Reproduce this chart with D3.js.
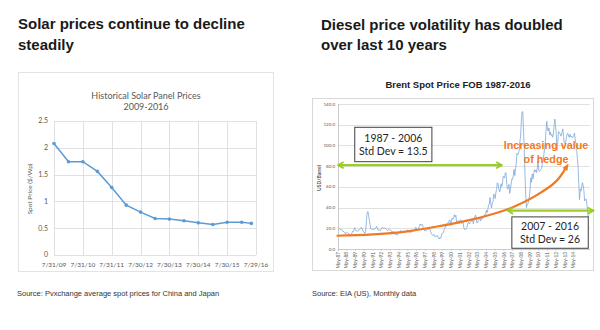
<!DOCTYPE html>
<html>
<head>
<meta charset="utf-8">
<script src="https://cdn.jsdelivr.net/npm/d3@7"></script>
<style>
  body { margin: 0; background: #fff; }
  svg { display: block; }
  .headline { font-family: "Liberation Sans", Arial, sans-serif; font-weight: bold; font-size: 15px; fill: #1a1a1a; }
  .source { font-family: "Liberation Sans", Arial, sans-serif; font-size: 7.5px; fill: #333; }
  .xl { font-family: Lato, "Liberation Sans", sans-serif; fill: #595959; }
  .callout { font-family: Lato, "Liberation Sans", sans-serif; font-size: 10.5px; fill: #262626; }
</style>
</head>
<body>
<svg id="chart" width="600" height="330"></svg>
<script>
// ---- solar panel spot prices ($/Wp), China & Japan average ----
const solarDates = ["2009-07-31", "2010-01-31", "2010-07-31", "2011-01-31", "2011-07-31",
  "2012-01-31", "2012-07-30", "2013-01-30", "2013-07-30", "2014-01-30", "2014-07-30",
  "2015-01-30", "2015-07-30", "2016-01-30", "2016-05-31"];
const solarPrices = [2.08, 1.74, 1.74, 1.56, 1.26, 0.93, 0.80, 0.68, 0.67, 0.64, 0.60, 0.57, 0.61, 0.61, 0.59];
const solarXTicks = ["2009-07-31", "2010-07-31", "2011-07-31", "2012-07-30", "2013-07-30",
  "2014-07-30", "2015-07-30", "2016-07-29"];
const solarYTicks = [0, 0.5, 1, 1.5, 2, 2.5];

// ---- Brent spot price FOB (USD/barrel), monthly from May 1987 ----
const brentStart = "1987-05";
const brentPrices = [
  18.58, 18.86, 19.86, 18.98, 18.31, 18.76, 18.25, 16.67,
  16.94, 15.98, 14.65, 16.01, 16.09, 15.44, 14.82, 14.98, 13.18, 12.42, 13.01, 15.17,
  17.12, 16.81, 18.63, 20.56, 18.35, 17.53, 17.83, 17.06, 18.12, 19.01, 18.75, 19.85,
  21.08, 19.69, 18.34, 16.39, 16.43, 15.09, 17.18, 27.22, 34.88, 36.20, 32.98, 27.75,
  23.73, 19.45, 19.14, 19.18, 19.20, 18.30, 19.42, 19.62, 20.17, 21.93, 20.56, 18.19,
  18.06, 18.07, 17.40, 18.75, 19.86, 21.12, 20.22, 19.76, 20.34, 20.32, 19.35, 18.41,
  17.75, 18.61, 18.76, 18.60, 18.48, 17.61, 16.49, 16.87, 16.04, 16.75, 15.24, 13.71,
  14.23, 13.78, 13.65, 15.08, 16.23, 16.92, 18.04, 16.91, 15.96, 16.22, 17.08, 15.85,
  16.55, 17.05, 16.88, 18.36, 18.28, 17.30, 15.99, 16.24, 16.56, 16.13, 16.94, 17.98,
  17.97, 18.36, 19.92, 21.17, 19.17, 18.75, 19.71, 20.33, 22.58, 24.16, 22.69, 23.68,
  23.61, 20.89, 19.34, 17.47, 18.67, 17.64, 18.73, 18.77, 18.56, 20.43, 19.27, 17.20,
  15.30, 14.03, 13.10, 13.34, 14.13, 12.02, 12.05, 11.90, 13.25, 12.64, 10.90, 9.64,
  11.08, 10.27, 12.51, 15.29, 15.23, 15.86, 19.08, 20.22, 22.54, 21.95, 24.59, 25.60,
  25.50, 27.78, 27.49, 22.76, 27.74, 29.80, 28.68, 30.20, 33.14, 30.96, 32.55, 25.66,
  25.62, 27.50, 24.50, 25.66, 28.31, 27.85, 24.61, 25.68, 25.62, 20.54, 18.80, 18.71,
  19.42, 20.28, 23.70, 25.73, 25.35, 24.08, 25.74, 26.65, 28.40, 27.54, 24.34, 28.33,
  31.18, 32.77, 30.61, 25.00, 25.86, 27.65, 28.35, 29.89, 27.11, 29.61, 28.75, 29.81,
  31.28, 30.86, 33.63, 33.59, 37.57, 35.18, 38.22, 42.74, 43.20, 49.78, 43.11, 39.60,
  44.51, 45.48, 53.10, 51.88, 48.65, 54.35, 57.52, 63.98, 62.91, 58.54, 55.24, 56.86,
  62.99, 60.21, 62.06, 70.26, 69.78, 68.56, 73.67, 73.23, 61.96, 57.81, 58.76, 62.47,
  53.68, 57.56, 62.05, 67.49, 67.21, 71.05, 76.93, 70.76, 77.17, 82.34, 92.41, 90.93,
  92.18, 94.99, 103.64, 109.07, 122.80, 132.32, 132.72, 113.24, 97.23, 71.58, 52.45, 39.95,
  43.44, 43.32, 46.54, 50.18, 57.30, 68.61, 64.44, 72.51, 67.65, 72.77, 76.66, 74.46,
  76.17, 73.75, 78.83, 84.82, 75.95, 74.76, 75.58, 77.04, 77.84, 82.67, 85.28, 91.45,
  96.52, 103.72, 114.64, 123.26, 114.99, 113.83, 116.97, 110.22, 112.83, 109.55, 110.77, 107.87,
  110.69, 119.33, 125.45, 119.75, 110.34, 95.16, 102.62, 113.36, 112.86, 111.71, 109.06, 109.49,
  112.96, 116.05, 108.47, 102.25, 102.56, 102.92, 107.93, 111.28, 111.60, 109.08, 107.79, 110.76,
  108.12, 108.90, 107.48, 107.76, 109.54, 111.80, 106.77, 101.61, 97.09, 87.43, 79.44, 62.34,
  47.76, 58.10, 55.89, 59.52, 64.08, 61.48, 56.56, 46.52, 47.62, 48.43, 44.27, 38.01,
  30.70, 32.18
];
const brentYTicks = [0, 20, 40, 60, 80, 100, 120, 140];

// volatility periods: arrow span, arrow level, callout box corners [month, price]
const periodLabels = ["1987 - 2006", "2007 - 2016"];
const periodStdDev = ["Std Dev = 13.5", "Std Dev = 26"];
const periodSpans = [["1987-05", "2006-02"], ["2006-10", "2016-08"]];
const periodLevels = [81, 37];
const periodBoxes = [[["1989-04", 117.5], ["1998-02", 84.3]], [["2007-04", 31], ["2016-01", 0.7]]];

// hedge trend curve, [month, price]
const hedgeCurve = [["1987-03", 12.8], ["1994-06", 16.1], ["1999-01", 22.2], ["2003-04", 29.6],
  ["2007-06", 40.5], ["2010-07", 54.1], ["2012-10", 69.5], ["2013-07", 79]];
const hedgeLabel = ["Increasing value", "of hedge"];
const hedgeLabelAt = [["2011-03", 96.5], ["2011-03", 83.5]];

const green = "#9acd2a";
const orange = "#f07a24";
const grid = "#d9d9d9";

const svg = d3.select("#chart");
const defs = svg.append("defs");

defs.append("marker").attr("id", "greenHead")
    .attr("viewBox", "0 0 10 10").attr("refX", 8.5).attr("refY", 5)
    .attr("markerWidth", 8).attr("markerHeight", 8)
    .attr("markerUnits", "userSpaceOnUse").attr("orient", "auto-start-reverse")
  .append("path").attr("d", "M1.5,1 L8.5,5 L1.5,9")
    .attr("fill", "none").attr("stroke", green).attr("stroke-width", 2.2);

defs.append("marker").attr("id", "orangeHead")
    .attr("viewBox", "0 0 10 10").attr("refX", 4).attr("refY", 5)
    .attr("markerWidth", 7).attr("markerHeight", 7)
    .attr("markerUnits", "userSpaceOnUse").attr("orient", "auto")
  .append("path").attr("d", "M0,1 L10,5 L0,9 Z").attr("fill", orange);

// headlines
svg.append("text").attr("class", "headline").attr("x", 18).attr("y", 29).text("Solar prices continue to decline");
svg.append("text").attr("class", "headline").attr("x", 18).attr("y", 50).text("steadily");
svg.append("text").attr("class", "headline").attr("x", 321).attr("y", 30).text("Diesel price volatility has doubled");
svg.append("text").attr("class", "headline").attr("x", 321).attr("y", 50).text("over last 10 years");

svg.append("text").attr("class", "source").attr("x", 17).attr("y", 296)
    .text("Source: Pvxchange average spot prices for China and Japan");
svg.append("text").attr("class", "source").attr("x", 312).attr("y", 296)
    .text("Source: EIA (US), Monthly data");

// ================= solar chart =================
const parseDay = d3.timeParse("%Y-%m-%d");
const solar = svg.append("g");

solar.append("rect")
    .attr("x", 18.5).attr("y", 72.5).attr("width", 255).attr("height", 199)
    .attr("fill", "#fff").attr("stroke", "#e3e3e3");

const sx = d3.scaleTime()
    .domain([parseDay(solarXTicks[0]), parseDay(solarXTicks[solarXTicks.length - 1])])
    .range([54, 256]);
const sy = d3.scaleLinear().domain([0, 2.5]).range([255, 121]);

solar.append("g").selectAll("line").data(solarYTicks).join("line")
    .attr("x1", sx.range()[0]).attr("x2", sx.range()[1])
    .attr("y1", d => Math.round(sy(d)) + 0.5).attr("y2", d => Math.round(sy(d)) + 0.5)
    .attr("stroke", grid).attr("stroke-width", 0.8);
solar.append("g").selectAll("line").data(solarXTicks).join("line")
    .attr("x1", d => Math.round(sx(parseDay(d))) + 0.5).attr("x2", d => Math.round(sx(parseDay(d))) + 0.5)
    .attr("y1", sy(2.5)).attr("y2", sy(0))
    .attr("stroke", grid).attr("stroke-width", 0.8);

solar.append("g").selectAll("text").data(solarYTicks).join("text")
    .attr("class", "xl").attr("font-size", 7)
    .attr("x", 48).attr("y", d => sy(d)).attr("dy", "0.35em")
    .attr("text-anchor", "end")
    .text(d => d3.format("~g")(d));

const solarTickFmt = d3.timeFormat("%-m/%-d/%y");
solar.append("g").selectAll("text").data(solarXTicks).join("text")
    .attr("class", "xl").attr("font-size", 6.5)
    .attr("x", d => sx(parseDay(d))).attr("y", 267)
    .attr("text-anchor", "middle")
    .text(d => solarTickFmt(parseDay(d)));

solar.append("text").attr("class", "xl").attr("font-size", 6.5)
    .attr("text-anchor", "middle")
    .attr("transform", "translate(32,189) rotate(-90)")
    .text("Spot Price ($/Wp)");

solar.append("text").attr("class", "xl").attr("font-size", 9)
    .attr("x", 146).attr("y", 99).attr("text-anchor", "middle")
    .text("Historical Solar Panel Prices");
solar.append("text").attr("class", "xl").attr("font-size", 9)
    .attr("x", 146).attr("y", 110).attr("text-anchor", "middle")
    .text("2009-2016");

const solarData = solarDates.map((d, i) => ({ date: parseDay(d), price: solarPrices[i] }));
solar.append("path").datum(solarData)
    .attr("fill", "none").attr("stroke", "#5b9bd5").attr("stroke-width", 1.5)
    .attr("d", d3.line().x(d => sx(d.date)).y(d => sy(d.price)));
solar.append("g").selectAll("circle").data(solarData).join("circle")
    .attr("cx", d => sx(d.date)).attr("cy", d => sy(d.price)).attr("r", 1.8)
    .attr("fill", "#5b9bd5");

// ================= brent chart =================
const parseMonth = d3.timeParse("%Y-%m");
const brent = svg.append("g");

brent.append("text")
    .attr("x", 458).attr("y", 88).attr("text-anchor", "middle")
    .attr("font-family", "Liberation Sans, Arial, sans-serif")
    .attr("font-weight", "bold").attr("font-size", 9.5).attr("fill", "#222")
    .text("Brent Spot Price FOB 1987-2016");

brent.append("rect")
    .attr("x", 312.5).attr("y", 98.5).attr("width", 281).attr("height", 172)
    .attr("fill", "none").attr("stroke", "#d9d9d9");

const start = parseMonth(brentStart);
const brentData = brentPrices.map((v, i) => ({ date: d3.timeMonth.offset(start, i), price: v }));

const bx = d3.scaleTime()
    .domain([brentData[0].date, brentData[brentData.length - 1].date])
    .range([338, 589]);
const by = d3.scaleLinear().domain([0, 140]).range([249, 104]);

brent.append("g").selectAll("line").data(brentYTicks).join("line")
    .attr("x1", 338).attr("x2", 590)
    .attr("y1", d => Math.round(by(d)) + 0.5).attr("y2", d => Math.round(by(d)) + 0.5)
    .attr("stroke", d => d === 0 ? "#bfbfbf" : grid).attr("stroke-width", 0.8);
brent.append("line")
    .attr("x1", 338.5).attr("x2", 338.5).attr("y1", by(140)).attr("y2", by(0) + 2)
    .attr("stroke", "#bfbfbf").attr("stroke-width", 0.8);

brent.append("g").selectAll("text").data(brentYTicks).join("text")
    .attr("class", "xl").attr("font-size", 4.5)
    .attr("x", 335).attr("y", d => by(d)).attr("dy", "0.35em")
    .attr("text-anchor", "end")
    .text(d => d3.format(".1f")(d));

brent.append("text").attr("class", "xl").attr("font-size", 5)
    .attr("font-weight", "bold")
    .attr("text-anchor", "middle")
    .attr("transform", "translate(321,178) rotate(-90)")
    .text("USD/Barrel");

const yearTicks = brentData.filter((d, i) => i % 12 === 0 && i + 12 <= brentData.length).map(d => d.date);
const monthFmt = d3.timeFormat("%b-%y");
brent.append("g").selectAll("line").data(yearTicks).join("line")
    .attr("x1", d => bx(d)).attr("x2", d => bx(d)).attr("y1", 249).attr("y2", 251)
    .attr("stroke", "#bfbfbf").attr("stroke-width", 0.6);
brent.append("g").selectAll("text").data(yearTicks).join("text")
    .attr("class", "xl").attr("font-size", 4.8)
    .attr("text-anchor", "end").attr("dy", "0.35em")
    .attr("transform", d => `translate(${bx(d)},252) rotate(-90)`)
    .text(d => monthFmt(d));

brent.append("path").datum(brentData)
    .attr("fill", "none").attr("stroke", "#7ea8db").attr("stroke-width", 0.8)
    .attr("d", d3.line().x(d => bx(d.date)).y(d => by(d.price)));

// hedge trend
brent.append("path").datum(hedgeCurve)
    .attr("fill", "none").attr("stroke", orange).attr("stroke-width", 2.2)
    .attr("marker-end", "url(#orangeHead)")
    .attr("d", d3.line().curve(d3.curveMonotoneX)
      .x(d => bx(parseMonth(d[0]))).y(d => by(d[1])));

hedgeLabel.forEach((t, i) => {
  brent.append("text")
      .attr("x", bx(parseMonth(hedgeLabelAt[i][0]))).attr("y", by(hedgeLabelAt[i][1]))
      .attr("text-anchor", "middle")
      .attr("font-family", "Liberation Sans, Arial, sans-serif")
      .attr("font-weight", "bold").attr("font-size", 10.8).attr("fill", orange)
      .text(t);
});

// volatility periods
periodSpans.forEach((span, i) => {
  brent.append("line")
      .attr("x1", bx(parseMonth(span[0]))).attr("x2", bx(parseMonth(span[1])))
      .attr("y1", by(periodLevels[i])).attr("y2", by(periodLevels[i]))
      .attr("stroke", green).attr("stroke-width", 2.2)
      .attr("marker-start", "url(#greenHead)").attr("marker-end", "url(#greenHead)");

  const [[m0, p0], [m1, p1]] = periodBoxes[i];
  const x0 = bx(parseMonth(m0)), x1 = bx(parseMonth(m1));
  const y0 = by(p0), y1 = by(p1);
  brent.append("rect")
      .attr("x", x0).attr("y", y0).attr("width", x1 - x0).attr("height", y1 - y0)
      .attr("fill", "#fff").attr("stroke", "#404040").attr("stroke-width", 1);
  const cx = (x0 + x1) / 2, h = y1 - y0;
  brent.append("text").attr("class", "callout")
      .attr("x", cx).attr("y", y0 + h * 0.42).attr("text-anchor", "middle")
      .text(periodLabels[i]);
  brent.append("text").attr("class", "callout")
      .attr("x", cx).attr("y", y0 + h * 0.82).attr("text-anchor", "middle")
      .text(periodStdDev[i]);
});
</script>
</body>
</html>
